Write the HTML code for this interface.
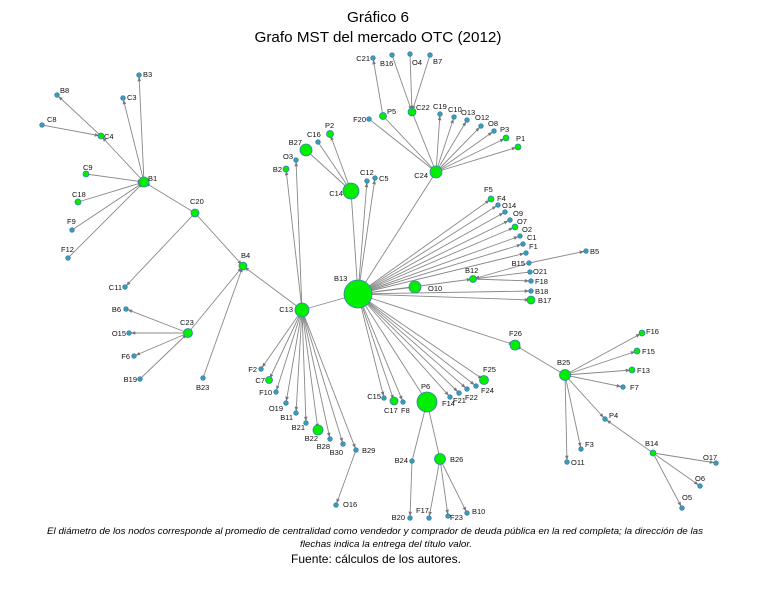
<!DOCTYPE html>
<html><head><meta charset="utf-8"><style>
body{margin:0;background:#fff;width:771px;height:592px;overflow:hidden}
svg{display:block}
.t{font-family:"Liberation Sans",sans-serif;font-size:7.5px;fill:#111}
.e{text-anchor:end}
</style></head><body>
<svg width="771" height="592" viewBox="0 0 771 592" xmlns="http://www.w3.org/2000/svg">
<defs><marker id="a" viewBox="0 0 10 10" refX="14" refY="5" markerWidth="5" markerHeight="5" orient="auto"><path d="M0,1L10,5L0,9z" fill="#777"/></marker></defs>
<text x="378" y="22" text-anchor="middle" font-family="Liberation Sans,sans-serif" font-size="15" textLength="62" lengthAdjust="spacingAndGlyphs">Gráfico 6</text>
<text x="378" y="42" text-anchor="middle" font-family="Liberation Sans,sans-serif" font-size="15" textLength="247" lengthAdjust="spacingAndGlyphs">Grafo MST del mercado OTC (2012)</text>
<text x="375" y="534" text-anchor="middle" font-family="Liberation Sans,sans-serif" font-size="9.5" font-style="italic" textLength="656" lengthAdjust="spacingAndGlyphs">El diámetro de los nodos corresponde al promedio de centralidad como vendedor y comprador de deuda pública en la red completa; la dirección de las</text>
<text x="386" y="547" text-anchor="middle" font-family="Liberation Sans,sans-serif" font-size="9.5" font-style="italic" textLength="172" lengthAdjust="spacingAndGlyphs">flechas indica la entrega del título valor.</text>
<text x="376" y="563" text-anchor="middle" font-family="Liberation Sans,sans-serif" font-size="12" textLength="170" lengthAdjust="spacingAndGlyphs">Fuente: cálculos de los autores.</text>
<g stroke="#888" stroke-width="0.9" fill="none" marker-end="url(#a)">
<path d="M144 182L139 75"/><path d="M144 182L123 98"/><path d="M144 182L101 136"/><path d="M101 136L57 95"/><path d="M42 125L101 136"/>
<path d="M86 174L144 182"/><path d="M78 202L144 182"/><path d="M72 230L144 182"/><path d="M68 258L144 182"/>
<path d="M195 213L144 182"/><path d="M195 213L243 266"/><path d="M195 213L125 287"/>
<path d="M188 333L243 266"/><path d="M203 378L243 266"/><path d="M302 310L243 266"/>
<path d="M188 333L126 309"/><path d="M188 333L129 333"/><path d="M188 333L134 356"/><path d="M140 379L188 333"/>
<path d="M358 294L302 310"/><path d="M302 310L286 169"/><path d="M302 310L296 160"/>
<path d="M302 310L261 369"/><path d="M302 310L269 380"/><path d="M302 310L276 392"/><path d="M302 310L286 403"/><path d="M302 310L296 413"/><path d="M302 310L306 423"/><path d="M302 310L318 430"/><path d="M302 310L330 439"/><path d="M302 310L343 444"/><path d="M302 310L356 450"/><path d="M356 450L336 505"/>
<path d="M358 294L351 191"/><path d="M358 294L367 181"/><path d="M358 294L375 178"/><path d="M358 294L436 172"/>
<path d="M306 150L351 191"/><path d="M318 142L351 191"/><path d="M351 191L330 134"/>
<path d="M369 119L436 172"/><path d="M383 116L436 172"/><path d="M412 112L436 172"/><path d="M436 172L440 114"/><path d="M436 172L454 117"/><path d="M436 172L467 120"/><path d="M436 172L481 126"/><path d="M436 172L494 131"/><path d="M436 172L506 138"/><path d="M436 172L518 147"/>
<path d="M383 116L373 58"/><path d="M392 55L412 112"/><path d="M410 54L412 112"/><path d="M430 55L412 112"/>
<path d="M358 294L491 199"/><path d="M358 294L498 205"/><path d="M358 294L505 212"/><path d="M358 294L510 220"/><path d="M358 294L515 227"/><path d="M358 294L520 236"/><path d="M358 294L523 244"/><path d="M358 294L526 253"/><path d="M358 294L473 279"/><path d="M415 287L358 294"/><path d="M358 294L531 291"/><path d="M358 294L531 300"/>
<path d="M529 263L473 279"/><path d="M530 272L473 279"/><path d="M473 279L531 281"/><path d="M529 263L586 251"/>
<path d="M358 294L515 345"/><path d="M358 294L484 380"/><path d="M358 294L476 386"/><path d="M358 294L467 389"/><path d="M358 294L459 393"/><path d="M358 294L450 397"/><path d="M358 294L427 402"/><path d="M358 294L403 402"/><path d="M358 294L394 401"/><path d="M358 294L384 398"/>
<path d="M565 375L515 345"/><path d="M565 375L642 333"/><path d="M565 375L637 351"/><path d="M565 375L632 370"/><path d="M565 375L623 387"/><path d="M565 375L605 419"/><path d="M565 375L581 449"/><path d="M565 375L567 462"/>
<path d="M653 453L605 419"/><path d="M653 453L716 463"/><path d="M653 453L700 486"/><path d="M653 453L682 508"/>
<path d="M412 461L427 402"/><path d="M440 459L427 402"/><path d="M412 461L410 518"/><path d="M440 459L429 518"/><path d="M440 459L448 516"/><path d="M440 459L467 513"/>
</g>
<g fill="#00ee00" stroke="#3a7cc0" stroke-width="0.8">
<circle cx="144" cy="182" r="5"/><circle cx="195" cy="213" r="4"/><circle cx="243" cy="266" r="4"/><circle cx="188" cy="333" r="4.5"/>
<circle cx="358" cy="294" r="14"/><circle cx="302" cy="310" r="7"/><circle cx="351" cy="191" r="8"/><circle cx="436" cy="172" r="6"/>
<circle cx="306" cy="150" r="6"/><circle cx="412" cy="112" r="4"/><circle cx="383" cy="116" r="3.5"/><circle cx="330" cy="134" r="3.5"/>
<circle cx="415" cy="287" r="6"/><circle cx="473" cy="279" r="3.5"/><circle cx="531" cy="300" r="4"/><circle cx="515" cy="345" r="5"/>
<circle cx="427" cy="402" r="10"/><circle cx="440" cy="459" r="5.5"/><circle cx="565" cy="375" r="5.5"/><circle cx="484" cy="380" r="4.5"/>
<circle cx="318" cy="430" r="5"/><circle cx="394" cy="401" r="4"/><circle cx="269" cy="380" r="3.5"/><circle cx="286" cy="169" r="3"/>
<circle cx="86" cy="174" r="3"/><circle cx="78" cy="202" r="3"/><circle cx="101" cy="136" r="3"/><circle cx="506" cy="138" r="3"/><circle cx="518" cy="147" r="3"/><circle cx="491" cy="199" r="3"/><circle cx="515" cy="227" r="3"/><circle cx="642" cy="333" r="3"/><circle cx="637" cy="351" r="3"/><circle cx="632" cy="370" r="3"/><circle cx="653" cy="453" r="3"/>
</g>
<g fill="#3aa0a8" stroke="#3070c0" stroke-width="0.7">
<circle cx="139" cy="75" r="2.3"/><circle cx="123" cy="98" r="2.3"/><circle cx="57" cy="95" r="2.3"/><circle cx="42" cy="125" r="2.3"/><circle cx="72" cy="230" r="2.3"/><circle cx="68" cy="258" r="2.3"/><circle cx="125" cy="287" r="2.3"/><circle cx="126" cy="309" r="2.3"/><circle cx="129" cy="333" r="2.3"/><circle cx="134" cy="356" r="2.3"/><circle cx="140" cy="379" r="2.3"/><circle cx="203" cy="378" r="2.3"/>
<circle cx="296" cy="160" r="2.3"/><circle cx="318" cy="142" r="2.3"/><circle cx="367" cy="181" r="2.3"/><circle cx="375" cy="178" r="2.3"/>
<circle cx="373" cy="58" r="2.3"/><circle cx="392" cy="55" r="2.3"/><circle cx="410" cy="54" r="2.3"/><circle cx="430" cy="55" r="2.3"/><circle cx="369" cy="119" r="2.3"/><circle cx="440" cy="114" r="2.3"/><circle cx="454" cy="117" r="2.3"/><circle cx="467" cy="120" r="2.3"/><circle cx="481" cy="126" r="2.3"/><circle cx="494" cy="131" r="2.3"/>
<circle cx="498" cy="205" r="2.3"/><circle cx="505" cy="212" r="2.3"/><circle cx="510" cy="220" r="2.3"/><circle cx="520" cy="236" r="2.3"/><circle cx="523" cy="244" r="2.3"/><circle cx="526" cy="253" r="2.3"/><circle cx="529" cy="263" r="2.3"/><circle cx="530" cy="272" r="2.3"/><circle cx="531" cy="281" r="2.3"/><circle cx="531" cy="291" r="2.3"/><circle cx="586" cy="251" r="2.3"/>
<circle cx="261" cy="369" r="2.3"/><circle cx="276" cy="392" r="2.3"/><circle cx="286" cy="403" r="2.3"/><circle cx="296" cy="413" r="2.3"/><circle cx="306" cy="423" r="2.3"/><circle cx="330" cy="439" r="2.3"/><circle cx="343" cy="444" r="2.3"/><circle cx="356" cy="450" r="2.3"/><circle cx="336" cy="505" r="2.3"/>
<circle cx="384" cy="398" r="2.3"/><circle cx="403" cy="402" r="2.3"/><circle cx="450" cy="397" r="2.3"/><circle cx="459" cy="393" r="2.3"/><circle cx="467" cy="389" r="2.3"/><circle cx="476" cy="386" r="2.3"/>
<circle cx="412" cy="461" r="2.3"/><circle cx="410" cy="518" r="2.3"/><circle cx="429" cy="518" r="2.3"/><circle cx="448" cy="516" r="2.3"/><circle cx="467" cy="513" r="2.3"/>
<circle cx="623" cy="387" r="2.3"/><circle cx="605" cy="419" r="2.3"/><circle cx="581" cy="449" r="2.3"/><circle cx="567" cy="462" r="2.3"/><circle cx="716" cy="463" r="2.3"/><circle cx="700" cy="486" r="2.3"/><circle cx="682" cy="508" r="2.3"/>
</g>
<g class="t">
<text x="143" y="77">B3</text><text x="60" y="93">B8</text><text x="127" y="100">C3</text><text x="47" y="122">C8</text><text x="104" y="139">C4</text><text x="83" y="170">C9</text><text x="148" y="181">B1</text><text x="72" y="197">C18</text><text x="67" y="224">F9</text><text x="61" y="252">F12</text><text x="190" y="204">C20</text><text x="241" y="258">B4</text>
<text class="e" x="122" y="290">C11</text><text class="e" x="121" y="312">B6</text><text x="180" y="325">C23</text><text class="e" x="126" y="336">O15</text><text class="e" x="130" y="359">F6</text><text class="e" x="137" y="382">B19</text><text x="196" y="390">B23</text>
<text class="e" x="370" y="61">C21</text><text x="380" y="66">B16</text><text x="412" y="65">O4</text><text x="433" y="64">B7</text><text x="416" y="110">C22</text><text x="387" y="114">P5</text><text class="e" x="366" y="122">F20</text><text x="433" y="109">C19</text><text x="448" y="112">C10</text><text x="461" y="115">O13</text><text x="475" y="120">O12</text><text x="488" y="126">O8</text><text x="500" y="132">P3</text><text x="516" y="141">P1</text><text class="e" x="428" y="178">C24</text>
<text x="325" y="128">P2</text><text x="307" y="137">C16</text><text class="e" x="302" y="145">B27</text><text class="e" x="293" y="159">O3</text><text class="e" x="282" y="172">B2</text><text class="e" x="343" y="196">C14</text><text x="360" y="175">C12</text><text x="379" y="181">C5</text>
<text x="484" y="192">F5</text><text x="497" y="201">F4</text><text x="502" y="208">O14</text><text x="513" y="216">O9</text><text x="517" y="224">O7</text><text x="522" y="232">O2</text><text x="527" y="240">C1</text><text x="529" y="249">F1</text><text class="e" x="525" y="266">B15</text><text x="590" y="254">B5</text><text x="465" y="273">B12</text><text x="533" y="274">O21</text><text x="535" y="284">F18</text><text x="428" y="291">O10</text><text x="535" y="294">B18</text><text x="538" y="303">B17</text><text x="334" y="281">B13</text>
<text class="e" x="293" y="312">C13</text><text class="e" x="257" y="372">F2</text><text class="e" x="265" y="383">C7</text><text class="e" x="272" y="395">F10</text><text class="e" x="283" y="411">O19</text><text class="e" x="293" y="420">B11</text><text class="e" x="305" y="430">B21</text><text class="e" x="318" y="441">B22</text><text class="e" x="330" y="449">B28</text><text class="e" x="343" y="455">B30</text><text x="362" y="453">B29</text><text x="343" y="507">O16</text>
<text class="e" x="381" y="399">C15</text><text x="384" y="413">C17</text><text x="401" y="413">F8</text><text x="421" y="389">P6</text><text x="442" y="406">F14</text><text x="453" y="403">F21</text><text x="465" y="400">F22</text><text x="481" y="393">F24</text><text x="483" y="372">F25</text><text x="509" y="336">F26</text>
<text class="e" x="408" y="463">B24</text><text x="450" y="462">B26</text><text class="e" x="405" y="520">B20</text><text x="416" y="513">F17</text><text x="450" y="520">F23</text><text x="472" y="514">B10</text>
<text x="646" y="334">F16</text><text x="642" y="354">F15</text><text x="637" y="373">F13</text><text x="630" y="390">F7</text><text x="557" y="365">B25</text><text x="609" y="418">P4</text><text x="585" y="447">F3</text><text x="571" y="465">O11</text><text x="645" y="446">B14</text><text x="703" y="460">O17</text><text x="695" y="481">O6</text><text x="682" y="500">O5</text>
</g>
</svg>
</body></html>
